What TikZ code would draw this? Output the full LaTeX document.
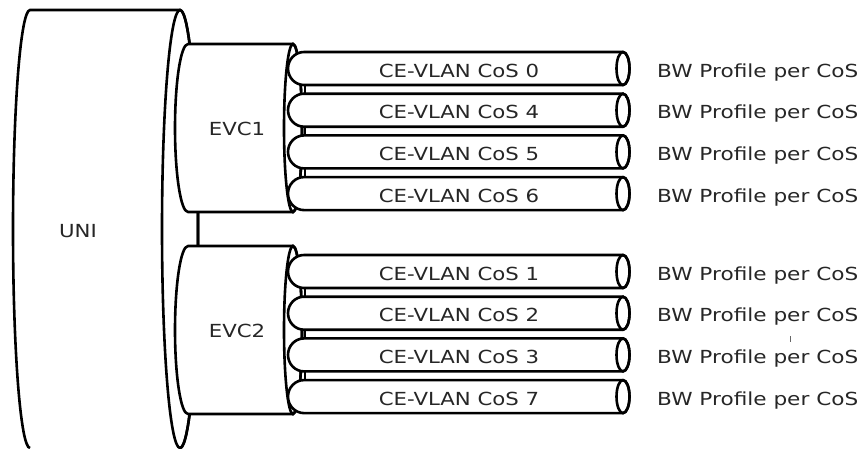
\documentclass[tikz,border=0pt]{standalone}
\usepackage{fontspec}
\usepackage{graphicx}
\setmainfont{DejaVu Sans}
\tikzset{
  outl/.style={line width=2.6pt, fill=white, line join=round},
  edge/.style={line width=2.6pt},
  lbl/.style={font=\fontsize{18}{20}\selectfont, text=black!85, inner sep=0pt, anchor=base},
}
\newcommand{\wtext}[1]{\scalebox{1.18}[1]{#1}}
\newcommand{\btext}[1]{\scalebox{1.2}[1]{#1}}
\begin{document}
\begin{tikzpicture}[x=1pt,y=1pt]
\useasboundingbox (0,0) rectangle (859,-448);
% UNI cylinder
\fill[white] (30,-10) -- (180,-10) arc[start angle=90,end angle=-90,x radius=18,y radius=219]
  -- (30,-448) arc[start angle=270,end angle=90,x radius=18,y radius=219] -- cycle;
\draw[edge] (180,-448) coordinate (unibr) arc[start angle=-90,end angle=90,x radius=18,y radius=219]
  coordinate (unitr) -- (30,-10) coordinate (unitl) arc[start angle=90,end angle=270,x radius=17,y radius=219];
\draw[edge] (180,-229) ellipse[x radius=18,y radius=219];
\node[lbl] (uni) at (78,-237) {\wtext{UNI}};
% EVC cylinders
\foreach \n/\c in {1/128,2/330}{
  \draw[outl] (188,-\c+84) -- (293,-\c+84) arc[start angle=90,end angle=-90,x radius=9,y radius=84]
    -- (188,-\c-84) arc[start angle=270,end angle=90,x radius=13,y radius=84] -- cycle;
  \draw[edge] (293,-\c) ellipse[x radius=9,y radius=84];
  \node[lbl] (evc\n) at (237,-\c-7) {\wtext{EVC\n}};
}
% CoS pipes
\foreach \k/\c/\cos in {1/68.5/0,2/110.2/4,3/151.9/5,4/193.6/6,5/271.5/1,6/313.2/2,7/354.9/3,8/396.6/7}{
  \draw[outl] (304,-\c+16.5) coordinate (p\k t) -- (623,-\c+16.5)
    arc[start angle=90,end angle=-90,x radius=6.5,y radius=16.5]
    -- (304,-\c-16.5) coordinate (p\k b) arc[start angle=270,end angle=90,x radius=16,y radius=16.5] -- cycle;
  \draw[edge] (623,-\c) ellipse[x radius=6.5,y radius=16.5];
  \node[lbl] (cos\k) at (459,-\c-8.5) {\wtext{CE-VLAN CoS \cos}};
  \node[lbl, anchor=base west] (bw\k) at (657,-\c-8.5) {\btext{BW Profile per CoS}};
}
% short links between neighbouring pipes
\foreach \a/\b in {1/2,2/3,3/4,5/6,6/7,7/8}{
  \draw[line width=2.2pt] ([xshift=1pt]p\a b) -- ([xshift=1pt]p\b t);
}
% stray mark
\draw[black!60, line width=0.8pt] (790,-336) coordinate (m1) -- (790,-342) coordinate (m2);
\end{tikzpicture}
\end{document}
